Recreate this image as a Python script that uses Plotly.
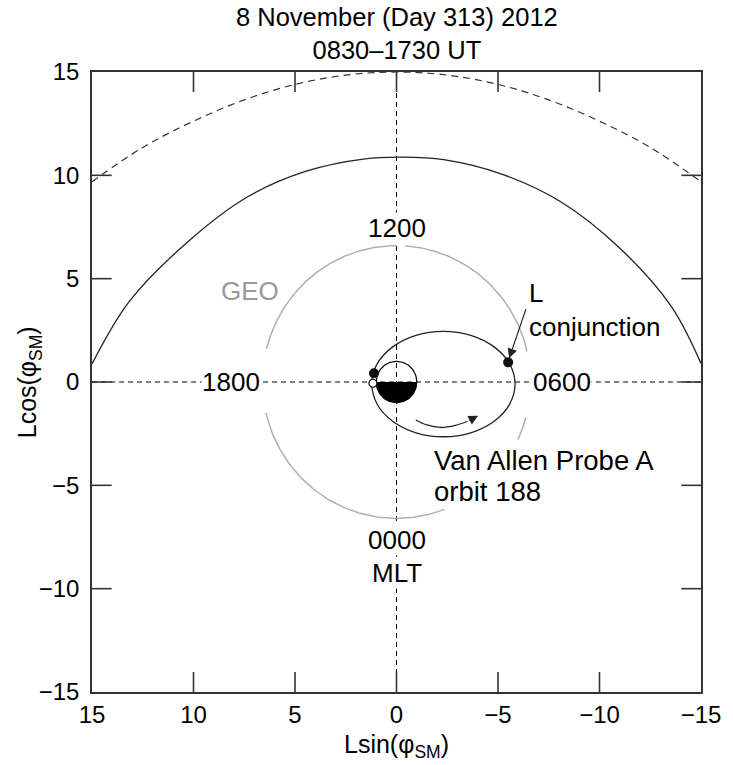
import numpy as np
import plotly.graph_objects as go

# ---------------- data ----------------
x_ticks = [15, 10, 5, 0, -5, -10, -15]
y_ticks = [-15, -10, -5, 0, 5, 10, 15]

# dashed outer boundary (magnetopause-like)
mp_x = [15, 12.5, 10, 7.5, 5, 2.5, 0, -2.5, -5, -7.5, -10, -12.5, -15]
mp_y = [9.69, 11.35, 12.62, 13.65, 14.4, 14.85, 15.0, 14.85, 14.4, 13.65, 12.62, 11.35, 9.69]

# solid boundary
bd_x = [15, 13.16, 10.26, 7.35, 4.45, 1.55, -0.3, -2.32, -5.22, -8.13, -11.03, -13.55, -15]
bd_y = [0.87, 3.9, 6.8, 8.95, 10.2, 10.8, 10.88, 10.76, 10.05, 8.7, 6.45, 3.64, 0.9]

# Van Allen Probe A orbit 188
orb_x = [1.22, 0.95, 0.19, -0.96, -2.31, -3.66, -4.81, -5.57, -5.84, -5.57, -4.81, -3.66,
         -2.31, -0.96, 0.19, 0.95, 1.22]
orb_y = [0.05, 0.88, 1.70, 2.26, 2.45, 2.26, 1.70, 0.88, -0.10, -1.08, -1.90, -2.46,
         -2.65, -2.46, -1.90, -1.08, 0.05]

# direction-of-motion arc inside the orbit
mot_x = [-0.95, -1.5, -2.16, -2.9, -3.5]
mot_y = [-1.84, -2.08, -2.2, -2.1, -1.9]
mot_head = (-4.02, -1.63)

# marked points
start_pt = (1.11, 0.42)     # filled
end_pt = (1.16, -0.06)      # open
conj_pt = (-5.5, 0.95)      # L conjunction
conj_tail = (-6.4, 3.6)

geo_radius = 6.6
geo_arcs_deg = [(14, 90), (93.6, 167), (195, 205), (249, 347)]
earth_radius = 1.0

AX = "#333333"
FONT = "Liberation Sans, Arial, sans-serif"
W, H = 733, 765
M = dict(l=92, r=21, t=72, b=73)
TICK_PX = 20

x_range = [x_ticks[0], x_ticks[-1]]
y_range = [y_ticks[0], y_ticks[-1]]
plot_w = W - M["l"] - M["r"]
plot_h = H - M["t"] - M["b"]
tick_dx = TICK_PX * abs(x_range[1] - x_range[0]) / plot_w
tick_dy = TICK_PX * abs(y_range[1] - y_range[0]) / plot_h

fig = go.Figure()

# dashed axes through origin
fig.add_trace(go.Scatter(x=[0, 0], y=y_range, mode="lines",
                         line=dict(color="black", width=1, dash="5px,4px"), hoverinfo="skip"))
fig.add_trace(go.Scatter(x=x_range, y=[0, 0], mode="lines",
                         line=dict(color="black", width=1, dash="5px,4px"), hoverinfo="skip"))

# inside ticks on all four sides, drawn as shapes placed at the tick values
shapes = []
ylo, yhi = min(y_range), max(y_range)
xl, xr = x_range[0], x_range[1]   # left edge value (15), right edge value (-15)
for v in x_ticks[1:-1]:
    for y0, y1 in ((ylo, ylo + tick_dy), (yhi, yhi - tick_dy)):
        shapes.append(dict(type="line", xref="x", yref="y", x0=v, x1=v, y0=y0, y1=y1,
                           line=dict(color=AX, width=1.6), layer="above"))
for v in y_ticks[1:-1]:
    for x0, x1 in ((xl, xl - tick_dx), (xr, xr + tick_dx)):
        shapes.append(dict(type="line", xref="x", yref="y", x0=x0, x1=x1, y0=v, y1=v,
                           line=dict(color=AX, width=1.6), layer="above"))

# boundaries
fig.add_trace(go.Scatter(x=mp_x, y=mp_y, mode="lines", line_shape="spline",
                         line=dict(color="#333333", width=1.2, dash="7px,5px")))
fig.add_trace(go.Scatter(x=bd_x, y=bd_y, mode="lines", line_shape="spline",
                         line=dict(color="#222222", width=1.3)))

# GEO arcs
for a0, a1 in geo_arcs_deg:
    t = np.radians(np.linspace(a0, a1, 80))
    fig.add_trace(go.Scatter(x=geo_radius * np.cos(t), y=geo_radius * np.sin(t), mode="lines",
                             line=dict(color="#b0b0b0", width=1.5)))

# Earth: open day side, filled night side
t_up = np.linspace(0, np.pi, 60)
fig.add_trace(go.Scatter(x=earth_radius * np.cos(t_up), y=earth_radius * np.sin(t_up),
                         mode="lines", line=dict(color="black", width=1.2)))
t_dn = np.linspace(np.pi, 2 * np.pi, 60)
fig.add_trace(go.Scatter(x=np.append(earth_radius * np.cos(t_dn), earth_radius),
                         y=np.append(earth_radius * np.sin(t_dn), 0),
                         mode="lines", fill="toself", fillcolor="black",
                         line=dict(color="black", width=1.2)))

# orbit
fig.add_trace(go.Scatter(x=orb_x, y=orb_y, mode="lines", line_shape="spline",
                         line=dict(color="#222222", width=1.3)))
fig.add_trace(go.Scatter(x=mot_x, y=mot_y, mode="lines", line_shape="spline",
                         line=dict(color="#222222", width=1.3)))

# points
fig.add_trace(go.Scatter(x=[start_pt[0], conj_pt[0]], y=[start_pt[1], conj_pt[1]], mode="markers",
                         marker=dict(color="#111111", size=10)))
fig.add_trace(go.Scatter(x=[end_pt[0]], y=[end_pt[1]], mode="markers",
                         marker=dict(color="white", size=8, line=dict(color="black", width=1.2))))

ann = []
# arrows
ann.append(dict(x=conj_pt[0] - 0.05, y=conj_pt[1] + 0.2, ax=conj_tail[0], ay=conj_tail[1],
                xref="x", yref="y", axref="x", ayref="y", text="", showarrow=True,
                arrowhead=2, arrowsize=1.6, arrowwidth=1.2, arrowcolor="#222222"))
ann.append(dict(x=mot_head[0], y=mot_head[1], ax=mot_x[-1], ay=mot_y[-1],
                xref="x", yref="y", axref="x", ayref="y", text="", showarrow=True,
                arrowhead=2, arrowsize=1.6, arrowwidth=1.2, arrowcolor="#222222"))

def label(txt, x, y, xanchor="center", color="black", bg=None, size=26):
    d = dict(x=x, y=y, xref="x", yref="y", text=txt, showarrow=False, xanchor=xanchor,
             yanchor="middle", font=dict(size=size, color=color, family=FONT), borderpad=0)
    if bg:
        d["bgcolor"] = bg
    return d

ann.append(label("1200", 0, 7.45, bg="white"))
ann.append(label("1800", 8.15, 0, bg="white"))
ann.append(label("0600", -8.13, 0, bg="white"))
ann.append(label("0000", 0, -7.64, bg="white"))
ann.append(label("MLT", 0, -9.25, bg="white"))
ann.append(label("GEO", 7.2, 4.4, color="#999999"))
ann.append(label("L", -6.48, 4.33, xanchor="left"))
ann.append(label("conjunction", -6.48, 2.68, xanchor="left"))
ann.append(label("Van Allen Probe A", -1.81, -3.82, xanchor="left", size=27.5))
ann.append(label("orbit 188", -1.81, -5.32, xanchor="left", size=27.5))

# title and axis titles
ann.append(dict(x=0.5, y=1.062, xref="paper", yref="paper", showarrow=False,
                text="8 November (Day 313) 2012<br>0830\u20131730 UT",
                font=dict(size=25.5, color="black", family=FONT), xanchor="center", yanchor="middle"))
ann.append(dict(x=0.5, y=-0.087, xref="paper", yref="paper", showarrow=False,
                text="Lsin(\u03c6<sub>SM</sub>)", font=dict(size=25, color="black", family=FONT),
                xanchor="center", yanchor="middle"))
ann.append(dict(x=-0.103, y=0.5, xref="paper", yref="paper", showarrow=False, textangle=-90,
                text="Lcos(\u03c6<sub>SM</sub>)", font=dict(size=25, color="black", family=FONT),
                xanchor="center", yanchor="middle"))

fig.update_layout(
    width=W, height=H,
    margin=M,
    plot_bgcolor="white", paper_bgcolor="white",
    showlegend=False,
    font=dict(family=FONT),
    xaxis=dict(range=x_range, tickmode="array", tickvals=x_ticks,
               showgrid=False, zeroline=False, showline=True, linecolor=AX, linewidth=1.5,
               mirror=True, ticks="",
               tickfont=dict(size=24, color="black", family=FONT)),
    yaxis=dict(range=y_range, tickmode="array", tickvals=y_ticks,
               showgrid=False, zeroline=False, showline=True, linecolor=AX, linewidth=1.5,
               mirror=True, ticks="", ticklabelstandoff=6,
               tickfont=dict(size=24, color="black", family=FONT)),
    annotations=ann,
    shapes=shapes,
)

fig.write_html("out.html")
